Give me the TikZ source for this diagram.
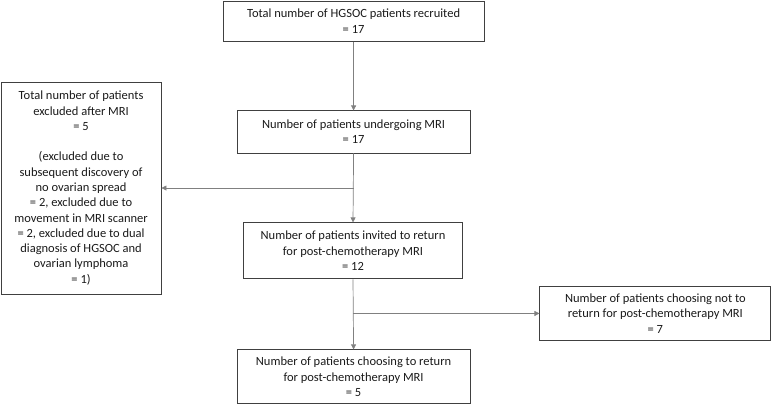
\documentclass[tikz,border=0pt]{standalone}
\usepackage{fontspec}
\setmainfont{Carlito}
\usetikzlibrary{arrows.meta}
\definecolor{ink}{HTML}{1A1A1A}
\definecolor{frame}{HTML}{404040}
\definecolor{wire}{HTML}{808080}

\begin{document}
\begin{tikzpicture}[font=\fontsize{12.5}{15.3}\selectfont,text=ink,>={Triangle[length=5pt,width=5pt]},
  box/.style={draw=frame,line width=0.9pt,align=center,inner sep=2pt},
  flow/.style={draw=wire,line width=0.7pt}]
  \useasboundingbox (0,0) rectangle (27.21,-14.27);

  \node[box,minimum width=9.17cm,minimum height=1.41cm] (recruited) at (12.43,-0.74)
    {Total number of HGSOC patients recruited\\= 17};
  \node[box,minimum width=8.19cm,minimum height=1.48cm] (mri) at (12.43,-4.64)
    {Number of patients undergoing MRI\\= 17};
  \node[box,minimum width=5.62cm,minimum height=7.45cm] (excluded) at (2.85,-6.61)
    {Total number of patients\\excluded after MRI\\= 5\\[15.3pt]
     (excluded due to\\subsequent discovery of\\no ovarian spread\\
     = 2, excluded due to\\movement in MRI scanner\\= 2, excluded due to dual\\
     diagnosis of HGSOC and\\ovarian lymphoma\\= 1)};
  \node[box,minimum width=7.70cm,minimum height=1.97cm] (invited) at (12.41,-8.82)
    {Number of patients invited to return\\for post-chemotherapy MRI\\= 12};
  \node[box,minimum width=8.12cm,minimum height=1.93cm] (declined) at (23.04,-11.02)
    {Number of patients choosing not to\\return for post-chemotherapy MRI\\= 7};
  \node[box,minimum width=8.19cm,minimum height=1.90cm] (returned) at (12.43,-13.25)
    {Number of patients choosing to return\\for post-chemotherapy MRI\\= 5};

  % main column
  \draw[flow,->] (recruited.south) -- (mri.north);
  \draw[flow,->] (mri.south) -- (invited.north);
  \draw[flow,->] (invited.south) -- (returned.north);

  % side branches
  \coordinate (split1) at (mri.south |- excluded.east);
  \coordinate (split2) at (invited.south |- declined.west);
  \draw[flow,->] (split1) -- (excluded.east);
  \draw[flow,->] (split2) -- (declined.west);
\end{tikzpicture}
\end{document}
